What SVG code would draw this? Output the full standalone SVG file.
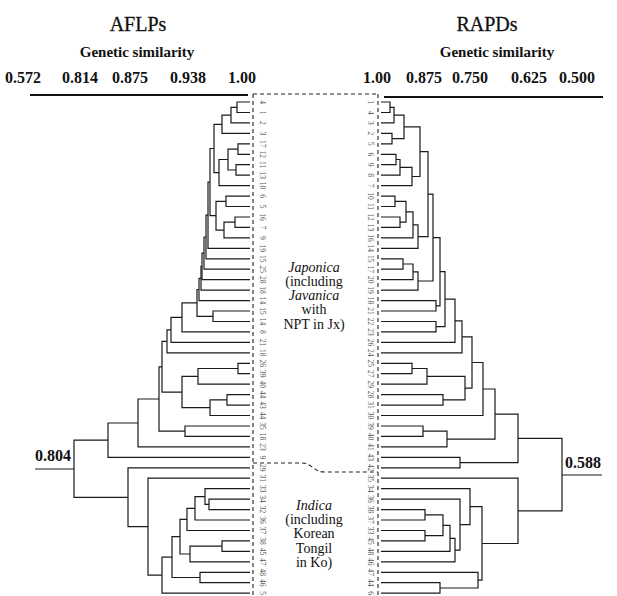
<svg xmlns="http://www.w3.org/2000/svg" width="617" height="596" viewBox="0 0 617 596">
<style>
.t{font-family:"Liberation Serif","Times New Roman",serif;fill:#111}
.title{font-size:20px;stroke:#111;stroke-width:0.3}
.sub{font-size:15px;font-weight:bold}
.num{font-size:16px;font-weight:bold}
.grp{font-size:14px;text-anchor:middle}
.it{font-style:italic}
.lab{font-family:"Liberation Serif",serif;font-size:7.5px;fill:#555;text-anchor:middle;dominant-baseline:central}
.tree path{fill:none;stroke:#1a1a1a;stroke-width:1.2}
.axis{stroke:#111;stroke-width:2.2}
.dash{fill:none;stroke:#222;stroke-width:1.1;stroke-dasharray:4 3}
</style>
<rect width="617" height="596" fill="#fff"/>
<g id="headers">
<text class="t title" x="138" y="31" text-anchor="middle">AFLPs</text>
<text class="t title" x="487" y="31" text-anchor="middle">RAPDs</text>
<text class="t sub" x="137" y="57" text-anchor="middle">Genetic similarity</text>
<text class="t sub" x="497" y="57" text-anchor="middle">Genetic similarity</text>
</g>
<g id="scale-left">
<text class="t num" x="23" y="83" text-anchor="middle">0.572</text>
<text class="t num" x="80" y="83" text-anchor="middle">0.814</text>
<text class="t num" x="130" y="83" text-anchor="middle">0.875</text>
<text class="t num" x="188" y="83" text-anchor="middle">0.938</text>
<text class="t num" x="242" y="83" text-anchor="middle">1.00</text>
<line class="axis" x1="30" y1="95" x2="248" y2="95"/>
</g>
<g id="scale-right">
<text class="t num" x="377" y="83" text-anchor="middle">1.00</text>
<text class="t num" x="424" y="83" text-anchor="middle">0.875</text>
<text class="t num" x="470" y="83" text-anchor="middle">0.750</text>
<text class="t num" x="529" y="83" text-anchor="middle">0.625</text>
<text class="t num" x="577" y="83" text-anchor="middle">0.500</text>
<line class="axis" x1="384" y1="97" x2="603" y2="97"/>
</g>
<g id="frame">
<path class="dash" d="M253 94 H378"/>
<path class="dash" d="M253 94 V596"/>
<path class="dash" d="M378 94 V596"/>
<path class="dash" d="M253 463 H302 C312 463 314 472 324 472 H378"/>
</g>
<g id="japonica-label">
<text class="t grp it" x="314" y="272" font-size="15">Japonica</text>
<text class="t grp" x="314" y="286">(including</text>
<text class="t grp it" x="314" y="300">Javanica</text>
<text class="t grp" x="314" y="314">with</text>
<text class="t grp" x="314" y="329">NPT in Jx)</text>
</g>
<g id="indica-label">
<text class="t grp it" x="314" y="510" font-size="15">Indica</text>
<text class="t grp" x="314" y="524">(including</text>
<text class="t grp" x="314" y="538">Korean</text>
<text class="t grp" x="314" y="553">Tongil</text>
<text class="t grp" x="314" y="567">in Ko)</text>
</g>
<g id="root-labels">
<text class="t num" x="53" y="461" text-anchor="middle">0.804</text>
<text class="t num" x="583" y="468" text-anchor="middle">0.588</text>
</g>
<g id="connectors" class="tree">
<g id="tree-aflp">
<path d="M250 102 H237 V112.5 H250"/>
<path d="M237 107.3 H231 V122.9 H250"/>
<path d="M231 115.1 H222 V133.4 H250"/>
<path d="M250 143.8 H238 V154.3 H250"/>
<path d="M250 164.7 H236 V175.2 H250"/>
<path d="M238 149.1 H228 V170 H236"/>
<path d="M228 159.5 H219 V185.6 H250"/>
<path d="M222 124.3 H214 V172.6 H219"/>
<path d="M250 196.1 H226 V206.5 H250"/>
<path d="M250 217 H235 V227.4 H250"/>
<path d="M235 222.2 H224 V237.9 H250"/>
<path d="M226 201.3 H216 V230.1 H224"/>
<path d="M214 148.5 H210 V215.7 H216"/>
<path d="M210 182.1 H208 V248.3 H250"/>
<path d="M208 215.2 H206 V258.8 H250"/>
<path d="M206 237 H204 V269.2 H250"/>
<path d="M204 253.1 H202 V279.7 H250"/>
<path d="M202 266.4 H201 V290.1 H250"/>
<path d="M201 278.3 H199 V300.6 H250"/>
<path d="M250 311 H213 V321.5 H250"/>
<path d="M199 289.5 H197 V316.3 H213"/>
<path d="M197 302.9 H182 V331.9 H250"/>
<path d="M182 317.4 H171 V342.4 H250"/>
<path d="M171 329.9 H167 V352.8 H250"/>
<path d="M250 363.3 H238 V373.7 H250"/>
<path d="M238 368.5 H198 V384.2 H250"/>
<path d="M250 394.6 H227 V405.1 H250"/>
<path d="M227 399.9 H210 V415.5 H250"/>
<path d="M198 376.4 H182 V407.7 H210"/>
<path d="M167 341.4 H162 V392.1 H182"/>
<path d="M250 426 H185 V436.4 H250"/>
<path d="M162 366.8 H159 V431.2 H185"/>
<path d="M159 399 H138 V446.9 H250"/>
<path d="M138 423 H108 V457.3 H250"/>
<path d="M250 499.1 H209 V509.6 H250"/>
<path d="M250 488.7 H205 V504.4 H209"/>
<path d="M205 496.6 H195 V520 H250"/>
<path d="M195 508.3 H187 V530.5 H250"/>
<path d="M250 540.9 H222 V551.4 H250"/>
<path d="M222 546.2 H190 V561.8 H250"/>
<path d="M187 519.4 H180 V554 H190"/>
<path d="M250 572.3 H200 V582.7 H250"/>
<path d="M180 536.7 H172 V577.5 H200"/>
<path d="M172 557.1 H162 V593.2 H250"/>
<path d="M250 478.2 H148 V575.2 H162"/>
<path d="M250 467.8 H128 V526.7 H148"/>
<path d="M108 440.2 H74 V497.3 H128"/>
<path d="M35 469 H74"/>
</g>
<g id="tree-rapd">
<path d="M381 102 H390 V112.5 H381"/>
<path d="M390 107.3 H394 V122.9 H381"/>
<path d="M381 133.4 H392 V143.8 H381"/>
<path d="M394 115.1 H404 V138.6 H392"/>
<path d="M381 154.3 H396 V164.7 H381"/>
<path d="M396 159.5 H400 V175.2 H381"/>
<path d="M400 167.4 H412 V185.6 H381"/>
<path d="M404 126.9 H420 V176.5 H412"/>
<path d="M381 196.1 H395 V206.5 H381"/>
<path d="M381 217 H400 V227.4 H381"/>
<path d="M395 201.3 H406 V222.2 H400"/>
<path d="M406 211.8 H413 V237.9 H381"/>
<path d="M413 224.9 H418 V248.3 H381"/>
<path d="M420 151.7 H428 V236.6 H418"/>
<path d="M381 258.8 H403 V269.2 H381"/>
<path d="M403 264 H413 V279.7 H381"/>
<path d="M413 271.9 H418 V290.1 H381"/>
<path d="M428 194.2 H433 V281 H418"/>
<path d="M381 300.6 H436 V311 H381"/>
<path d="M433 237.6 H440 V305.8 H436"/>
<path d="M381 321.5 H436 V331.9 H381"/>
<path d="M440 271.7 H445 V326.7 H436"/>
<path d="M445 299.2 H455 V342.4 H381"/>
<path d="M455 320.8 H462 V352.8 H381"/>
<path d="M381 363.3 H412 V373.7 H381"/>
<path d="M412 368.5 H427 V384.2 H381"/>
<path d="M381 394.6 H443 V405.1 H381"/>
<path d="M427 376.4 H465 V399.9 H443"/>
<path d="M462 336.8 H472 V388.2 H465"/>
<path d="M472 362.5 H483 V415.5 H381"/>
<path d="M381 426 H423 V436.4 H381"/>
<path d="M423 431.2 H447 V446.9 H381"/>
<path d="M483 389 H495 V439.1 H447"/>
<path d="M381 457.3 H460 V467.8 H381"/>
<path d="M495 414.1 H518 V462.6 H460"/>
<path d="M381 509.6 H425 V520 H381"/>
<path d="M381 530.5 H425 V540.9 H381"/>
<path d="M425 514.8 H443 V535.7 H425"/>
<path d="M443 525.3 H450 V551.4 H381"/>
<path d="M450 538.4 H455 V561.8 H381"/>
<path d="M381 499.1 H460 V550.1 H455"/>
<path d="M381 488.7 H470 V524.6 H460"/>
<path d="M381 582.7 H440 V593.2 H381"/>
<path d="M381 572.3 H478 V588 H440"/>
<path d="M470 506.7 H482 V580.2 H478"/>
<path d="M381 478.2 H518 V543.5 H482"/>
<path d="M518 438.4 H562 V510.9 H518"/>
<path d="M562 475 H602"/>
</g>
</g>
<g id="leaf-labels-left">
<text class="lab" x="262" y="102" transform="rotate(90 262 102)">4</text>
<text class="lab" x="262" y="112.5" transform="rotate(90 262 112.5)">1</text>
<text class="lab" x="262" y="122.9" transform="rotate(90 262 122.9)">2</text>
<text class="lab" x="262" y="133.4" transform="rotate(90 262 133.4)">3</text>
<text class="lab" x="262" y="143.8" transform="rotate(90 262 143.8)">17</text>
<text class="lab" x="262" y="154.3" transform="rotate(90 262 154.3)">12</text>
<text class="lab" x="262" y="164.7" transform="rotate(90 262 164.7)">11</text>
<text class="lab" x="262" y="175.2" transform="rotate(90 262 175.2)">13</text>
<text class="lab" x="262" y="185.6" transform="rotate(90 262 185.6)">10</text>
<text class="lab" x="262" y="196.1" transform="rotate(90 262 196.1)">6</text>
<text class="lab" x="262" y="206.5" transform="rotate(90 262 206.5)">5</text>
<text class="lab" x="262" y="217" transform="rotate(90 262 217)">16</text>
<text class="lab" x="262" y="227.4" transform="rotate(90 262 227.4)">7</text>
<text class="lab" x="262" y="237.9" transform="rotate(90 262 237.9)">9</text>
<text class="lab" x="262" y="248.3" transform="rotate(90 262 248.3)">19</text>
<text class="lab" x="262" y="258.8" transform="rotate(90 262 258.8)">15</text>
<text class="lab" x="262" y="269.2" transform="rotate(90 262 269.2)">25</text>
<text class="lab" x="262" y="279.7" transform="rotate(90 262 279.7)">28</text>
<text class="lab" x="262" y="290.1" transform="rotate(90 262 290.1)">18</text>
<text class="lab" x="262" y="300.6" transform="rotate(90 262 300.6)">14</text>
<text class="lab" x="262" y="311" transform="rotate(90 262 311)">15</text>
<text class="lab" x="262" y="321.5" transform="rotate(90 262 321.5)">14</text>
<text class="lab" x="262" y="331.9" transform="rotate(90 262 331.9)">8</text>
<text class="lab" x="262" y="342.4" transform="rotate(90 262 342.4)">21</text>
<text class="lab" x="262" y="352.8" transform="rotate(90 262 352.8)">18</text>
<text class="lab" x="262" y="363.3" transform="rotate(90 262 363.3)">26</text>
<text class="lab" x="262" y="373.7" transform="rotate(90 262 373.7)">39</text>
<text class="lab" x="262" y="384.2" transform="rotate(90 262 384.2)">40</text>
<text class="lab" x="262" y="394.6" transform="rotate(90 262 394.6)">44</text>
<text class="lab" x="262" y="405.1" transform="rotate(90 262 405.1)">43</text>
<text class="lab" x="262" y="415.5" transform="rotate(90 262 415.5)">44</text>
<text class="lab" x="262" y="426" transform="rotate(90 262 426)">35</text>
<text class="lab" x="262" y="436.4" transform="rotate(90 262 436.4)">18</text>
<text class="lab" x="262" y="446.9" transform="rotate(90 262 446.9)">23</text>
<text class="lab" x="262" y="457.3" transform="rotate(90 262 457.3)">9</text>
<text class="lab" x="262" y="467.8" transform="rotate(90 262 467.8)">29</text>
<text class="lab" x="262" y="478.2" transform="rotate(90 262 478.2)">31</text>
<text class="lab" x="262" y="488.7" transform="rotate(90 262 488.7)">33</text>
<text class="lab" x="262" y="499.1" transform="rotate(90 262 499.1)">34</text>
<text class="lab" x="262" y="509.6" transform="rotate(90 262 509.6)">32</text>
<text class="lab" x="262" y="520" transform="rotate(90 262 520)">36</text>
<text class="lab" x="262" y="530.5" transform="rotate(90 262 530.5)">37</text>
<text class="lab" x="262" y="540.9" transform="rotate(90 262 540.9)">38</text>
<text class="lab" x="262" y="551.4" transform="rotate(90 262 551.4)">45</text>
<text class="lab" x="262" y="561.8" transform="rotate(90 262 561.8)">47</text>
<text class="lab" x="262" y="572.3" transform="rotate(90 262 572.3)">48</text>
<text class="lab" x="262" y="582.7" transform="rotate(90 262 582.7)">46</text>
<text class="lab" x="262" y="593.2" transform="rotate(90 262 593.2)">5</text>
</g>
<g id="leaf-labels-right">
<text class="lab" x="370" y="102" transform="rotate(90 370 102)">1</text>
<text class="lab" x="370" y="112.5" transform="rotate(90 370 112.5)">4</text>
<text class="lab" x="370" y="122.9" transform="rotate(90 370 122.9)">3</text>
<text class="lab" x="370" y="133.4" transform="rotate(90 370 133.4)">2</text>
<text class="lab" x="370" y="143.8" transform="rotate(90 370 143.8)">5</text>
<text class="lab" x="370" y="154.3" transform="rotate(90 370 154.3)">6</text>
<text class="lab" x="370" y="164.7" transform="rotate(90 370 164.7)">9</text>
<text class="lab" x="370" y="175.2" transform="rotate(90 370 175.2)">8</text>
<text class="lab" x="370" y="185.6" transform="rotate(90 370 185.6)">7</text>
<text class="lab" x="370" y="196.1" transform="rotate(90 370 196.1)">10</text>
<text class="lab" x="370" y="206.5" transform="rotate(90 370 206.5)">11</text>
<text class="lab" x="370" y="217" transform="rotate(90 370 217)">12</text>
<text class="lab" x="370" y="227.4" transform="rotate(90 370 227.4)">13</text>
<text class="lab" x="370" y="237.9" transform="rotate(90 370 237.9)">16</text>
<text class="lab" x="370" y="248.3" transform="rotate(90 370 248.3)">14</text>
<text class="lab" x="370" y="258.8" transform="rotate(90 370 258.8)">15</text>
<text class="lab" x="370" y="269.2" transform="rotate(90 370 269.2)">17</text>
<text class="lab" x="370" y="279.7" transform="rotate(90 370 279.7)">20</text>
<text class="lab" x="370" y="290.1" transform="rotate(90 370 290.1)">19</text>
<text class="lab" x="370" y="300.6" transform="rotate(90 370 300.6)">18</text>
<text class="lab" x="370" y="311" transform="rotate(90 370 311)">21</text>
<text class="lab" x="370" y="321.5" transform="rotate(90 370 321.5)">22</text>
<text class="lab" x="370" y="331.9" transform="rotate(90 370 331.9)">23</text>
<text class="lab" x="370" y="342.4" transform="rotate(90 370 342.4)">26</text>
<text class="lab" x="370" y="352.8" transform="rotate(90 370 352.8)">24</text>
<text class="lab" x="370" y="363.3" transform="rotate(90 370 363.3)">25</text>
<text class="lab" x="370" y="373.7" transform="rotate(90 370 373.7)">27</text>
<text class="lab" x="370" y="384.2" transform="rotate(90 370 384.2)">29</text>
<text class="lab" x="370" y="394.6" transform="rotate(90 370 394.6)">28</text>
<text class="lab" x="370" y="405.1" transform="rotate(90 370 405.1)">31</text>
<text class="lab" x="370" y="415.5" transform="rotate(90 370 415.5)">30</text>
<text class="lab" x="370" y="426" transform="rotate(90 370 426)">39</text>
<text class="lab" x="370" y="436.4" transform="rotate(90 370 436.4)">40</text>
<text class="lab" x="370" y="446.9" transform="rotate(90 370 446.9)">41</text>
<text class="lab" x="370" y="457.3" transform="rotate(90 370 457.3)">43</text>
<text class="lab" x="370" y="467.8" transform="rotate(90 370 467.8)">42</text>
<text class="lab" x="370" y="478.2" transform="rotate(90 370 478.2)">35</text>
<text class="lab" x="370" y="488.7" transform="rotate(90 370 488.7)">34</text>
<text class="lab" x="370" y="499.1" transform="rotate(90 370 499.1)">36</text>
<text class="lab" x="370" y="509.6" transform="rotate(90 370 509.6)">38</text>
<text class="lab" x="370" y="520" transform="rotate(90 370 520)">37</text>
<text class="lab" x="370" y="530.5" transform="rotate(90 370 530.5)">33</text>
<text class="lab" x="370" y="540.9" transform="rotate(90 370 540.9)">45</text>
<text class="lab" x="370" y="551.4" transform="rotate(90 370 551.4)">48</text>
<text class="lab" x="370" y="561.8" transform="rotate(90 370 561.8)">46</text>
<text class="lab" x="370" y="572.3" transform="rotate(90 370 572.3)">47</text>
<text class="lab" x="370" y="582.7" transform="rotate(90 370 582.7)">44</text>
<text class="lab" x="370" y="593.2" transform="rotate(90 370 593.2)">6</text>
</g>
</svg>
